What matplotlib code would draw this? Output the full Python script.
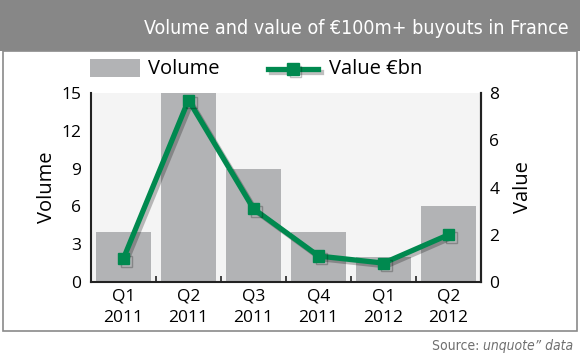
import matplotlib
matplotlib.use("Agg")
import matplotlib.pyplot as plt
import matplotlib.patheffects as pe
from matplotlib.patches import Rectangle
from matplotlib.lines import Line2D

quarters = ["Q1\n2011", "Q2\n2011", "Q3\n2011", "Q4\n2011", "Q1\n2012", "Q2\n2012"]
volume = [4, 15, 9, 4, 2, 6]
value_bn = [1.0, 7.7, 3.1, 1.1, 0.8, 2.0]
vol_ticks = [0, 3, 6, 9, 12, 15]
val_ticks = [0, 2, 4, 6, 8]

BAR = "#b2b3b5"
GREEN = "#00894f"
HEAD = "#878787"
FONT = ["Open Sans", "DejaVu Sans"]
COND = ["Liberation Sans Narrow", "DejaVu Sans"]

plt.rcParams["font.family"] = FONT

fig = plt.figure(figsize=(5.8, 3.58), dpi=100)
W, H = 580, 358

def fx(x):
    return x / W
def fy(y):
    return 1 - y / H

# header band and frame
fig.patches.append(Rectangle((0, fy(51)), 1, 51 / H, transform=fig.transFigure,
                             facecolor=HEAD, edgecolor="none", zorder=-5))
fig.patches.append(Rectangle((fx(3), fy(331)), fx(574), (331 - 51) / H, transform=fig.transFigure,
                             facecolor="white", edgecolor="#8a8a8a", lw=1.2, zorder=-5))
fig.text(fx(569), fy(29), "Volume and value of €100m+ buyouts in France", color="white",
         fontsize=14, ha="right", va="center", family=COND, fontstretch="condensed")

ax = fig.add_axes([fx(91), fy(282), fx(481 - 91), (282 - 93) / H])
ax.set_facecolor("#f4f4f4")
x = list(range(len(quarters)))
ax.bar(x, volume, width=0.85, color=BAR, zorder=2)
ax.set_xlim(-0.5, len(quarters) - 0.5)
ax.set_ylim(0, 15)
ax.set_yticks(vol_ticks)
ax.set_xticks(x)
ax.set_xticklabels(quarters, fontsize=12.5, linespacing=1.4)
ax.set_xticks([i + 0.5 for i in x[:-1]], minor=True)
ax.tick_params(axis="x", which="major", length=0, pad=5)
ax.tick_params(axis="x", which="minor", direction="in", length=4, width=1.2, color="#222222")
ax.tick_params(axis="y", length=0, labelsize=12.5, pad=7)
ax.set_ylabel("Volume", fontsize=14.5, labelpad=3)
ax.spines["top"].set_visible(False)
for s in ["left", "bottom", "right"]:
    ax.spines[s].set_linewidth(1.5)
    ax.spines[s].set_color("#222222")

ax2 = ax.twinx()
ax2.set_ylim(0, 8)
ax2.set_yticks(val_ticks)
ax2.tick_params(axis="y", length=0, labelsize=12.5, pad=6)
ax2.set_ylabel("Value", fontsize=14.5, labelpad=10)
for s in ["top", "left", "bottom"]:
    ax2.spines[s].set_visible(False)
ax2.spines["right"].set_linewidth(1.5)
ax2.spines["right"].set_color("#222222")
shadow = [pe.SimpleLineShadow(offset=(2, -2), shadow_color="black", alpha=0.25), pe.Normal()]
ax2.plot(x, value_bn, color=GREEN, lw=3.8, marker="s", markersize=8, zorder=3,
         path_effects=shadow)

# legend
fig.patches.append(Rectangle((fx(90), fy(77)), fx(50), 18 / H, transform=fig.transFigure,
                             facecolor=BAR, edgecolor="none"))
fig.text(fx(148), fy(69), "Volume", fontsize=14.5, va="center", ha="left")
fig.lines.append(Line2D([fx(268), fx(318)], [fy(69), fy(69)], transform=fig.transFigure,
                        color=GREEN, lw=3.8, path_effects=shadow))
fig.lines.append(Line2D([fx(293)], [fy(69)], transform=fig.transFigure,
                        color=GREEN, marker="s", markersize=8, lw=0, path_effects=shadow))
fig.text(fx(329), fy(69), "Value €bn", fontsize=14.5, va="center", ha="left")

# source
t1 = fig.text(fx(573), fy(346), "unquote\u201d data", color="#6f6f6f", fontsize=10,
              ha="right", va="center", family=COND, style="italic", fontstretch="condensed")
fig.canvas.draw()
bb = t1.get_window_extent()
fig.text(bb.x0 / fig.dpi / 5.8, fy(346), "Source: ", color="#6f6f6f", fontsize=10,
         ha="right", va="center", family=COND, fontstretch="condensed")

fig.savefig("out.png", dpi=100)
